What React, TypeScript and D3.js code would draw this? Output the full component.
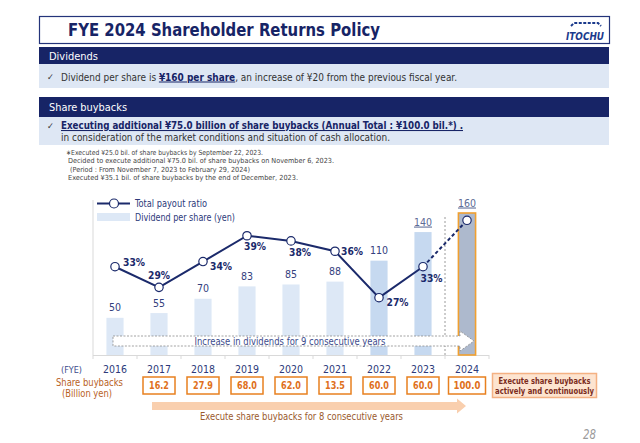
import React from 'react';
import * as d3 from 'd3';

const years = ['2016', '2017', '2018', '2019', '2020', '2021', '2022', '2023', '2024'];
const dividends = [50, 55, 70, 83, 85, 88, 110, 140, 160];
const payoutRatio = [33, 29, 34, 39, 38, 36, 27, 33, 42];
const payoutLabels = ['33%', '29%', '34%', '39%', '38%', '36%', '27%', '33%', ''];
const buybacks: (number | null)[] = [null, 16.2, 27.9, 68.0, 62.0, 13.5, 60.0, 60.0, 100.0];

const F = "'DejaVu Sans Condensed', 'DejaVu Sans', Verdana, sans-serif";
const NAVY = '#172466';
const LINE = '#1b2a6b';
const ORANGE = '#e8801f';

type TP = {
  x: number; y: number; w?: number; size: number; weight?: string | number; fill?: string;
  anchor?: 'start' | 'middle' | 'end'; italic?: boolean; children?: React.ReactNode; deco?: string;
};
function T({ x, y, w, size, weight, fill, anchor, italic, children, deco }: TP) {
  return (
    <text x={x} y={y} fontFamily={F} fontSize={size} fontWeight={weight || 'normal'} fill={fill || '#333'}
      textAnchor={anchor || 'start'} fontStyle={italic ? 'italic' : 'normal'}
      textDecoration={deco}
      {...(w ? { textLength: w, lengthAdjust: 'spacingAndGlyphs' } : {})}>
      {children}
    </text>
  );
}

// label placement relative to each point: [dx, dy, anchor]
const labelOffsets: [number, number, 'start' | 'middle'][] = [
  [8, -1, 'start'], [0, -8.5, 'middle'], [7, 8.5, 'start'], [8, 14.5, 'middle'],
  [9, 15.5, 'middle'], [6, 3.5, 'start'], [7.5, 8.5, 'start'], [8.5, 15.5, 'middle'], [0, 0, 'middle'],
];

export default function App() {
  const x = d3.scaleBand<string>().domain(years).range([93, 489]).padding(0);
  const bw = x.bandwidth();
  const cx = (yr: string) => (x(yr) as number) + bw / 2;
  const barW = bw * 0.39;
  const yBar = d3.scaleLinear().domain([11, 160]).range([355, 213]);
  const yLine = d3.scaleLinear().domain([0, 50]).range([437, 179]);

  const pts = years.map((yr, i) => [cx(yr), yLine(payoutRatio[i])] as [number, number]);
  const lineGen = d3.line();
  const solid = lineGen(pts.slice(0, 8)) || '';
  const dashed = lineGen(pts.slice(7, 9)) || '';

  const barFill = (i: number) => (i === 8 ? '#adb9cd' : i >= 6 ? '#c6d9f0' : '#dde8f6');

  const ticks = d3.range(years.length + 1).map((k) => 93 + k * bw);

  return (
    <svg width={640} height={443} style={{ position: 'absolute', left: 0, top: 0, background: '#fff' }}>
      {/* Title */}
      <rect x={39.5} y={16.5} width={570} height={27} fill="#fff" stroke="#24347a" strokeWidth={1.2} />
      <T x={68} y={36} w={312} size={17.5} weight="bold" fill={NAVY}>FYE 2024 Shareholder Returns Policy</T>
      <path d="M571,26 L574,23 L598,23 L601,26" fill="none" stroke="#1b3a8c" strokeWidth={2} strokeDasharray="3,1.5" />
      <T x={566} y={40} w={38} size={11} weight="bold" italic fill="#1b3a8c">ITOCHU</T>

      {/* Dividends */}
      <rect x={39} y={47} width={570} height={17} fill={NAVY} />
      <T x={49} y={60} w={49} size={11} fill="#fff">Dividends</T>
      <rect x={39} y={64} width={570} height={24} fill="#dee7f4" />
      <T x={47} y={80} size={9} fill="#333">✓</T>
      <text x={61} y={80.5} fontFamily={F} fontSize={10} fill="#333" textLength={396} lengthAdjust="spacingAndGlyphs">
        Dividend per share is{' '}
        <tspan fontWeight="bold" fill={NAVY} textDecoration="underline">¥160 per share</tspan>
        , an increase of ¥20 from the previous fiscal year.
      </text>

      {/* Share buybacks */}
      <rect x={39} y={97} width={570} height={20} fill={NAVY} />
      <T x={49} y={111} w={78} size={11} fill="#fff">Share buybacks</T>
      <rect x={39} y={117} width={570} height={28} fill="#dee7f4" />
      <T x={47} y={128.5} size={9} fill="#333">✓</T>
      <T x={61} y={129} w={402} size={10.5} weight="bold" fill={NAVY} deco="underline">
        Executing additional ¥75.0 billion of share buybacks (Annual Total : ¥100.0 bil.*) .
      </T>
      <T x={61} y={140.5} w={329} size={10} fill="#333">in consideration of the market conditions and situation of cash allocation.</T>
      <T x={66} y={154.5} w={197} size={7} fill="#444">∗Executed ¥25.0 bil. of share buybacks by September 22, 2023.</T>
      <T x={68} y={163} w={266} size={7} fill="#444">Decided to execute additional ¥75.0 bil. of share buybacks on November 6, 2023.</T>
      <T x={70} y={171.5} w={180} size={7} fill="#444">(Period : From November 7, 2023 to February 29, 2024)</T>
      <T x={68} y={180} w={230} size={7} fill="#444">Executed ¥35.1 bil. of share buybacks by the end of December, 2023.</T>

      {/* Axes */}
      <line x1={93} x2={93} y1={200} y2={355} stroke="#d9d9d9" strokeWidth={1} />
      <line x1={93} x2={489} y1={355.5} y2={355.5} stroke="#d9d9d9" strokeWidth={1} />
      {ticks.map((t) => (
        <line key={t} x1={t} x2={t} y1={355} y2={359} stroke="#d9d9d9" strokeWidth={1} />
      ))}

      {/* Bars */}
      {years.map((yr, i) => (
        <rect key={yr} x={cx(yr) - barW / 2} y={yBar(dividends[i])} width={barW} height={355 - yBar(dividends[i])}
          fill={barFill(i)} stroke={i === 8 ? '#f0a030' : 'none'} strokeWidth={i === 8 ? 1.6 : 0} />
      ))}
      <line x1={(x('2024') as number)} x2={(x('2024') as number)} y1={217} y2={355} stroke="#9a9a9a" strokeWidth={1} strokeDasharray="2,2" />
      {years.map((yr, i) => (
        <T key={'d' + yr} x={cx(yr)} y={yBar(dividends[i]) - 6.5} size={10.5} anchor="middle"
          fill={i >= 7 ? '#5d6c96' : '#33407e'} deco={i >= 7 ? 'underline' : undefined}>
          {String(dividends[i])}
        </T>
      ))}

      {/* Increase arrow */}
      <path d="M113,336 H460 V331 L474,341 L460,351 V346 H113 Z" fill="#fff" stroke="#8a8a8a" strokeWidth={0.8} strokeDasharray="2,1.5" />
      <T x={290} y={344.8} w={191} size={10} anchor="middle" fill="#3c4b8c">Increase in dividends for 9 consecutive years</T>

      {/* Payout line */}
      <path d={solid} fill="none" stroke={LINE} strokeWidth={2} />
      <path d={dashed} fill="none" stroke={LINE} strokeWidth={2} strokeDasharray="3.5,2.5" />
      {pts.map((p, i) => (
        <circle key={'c' + i} cx={p[0]} cy={p[1]} r={4.2} fill="#fff" stroke={LINE} strokeWidth={1.2} />
      ))}
      {pts.map((p, i) => payoutLabels[i] ? (
        <T key={'l' + i} x={p[0] + labelOffsets[i][0]} y={p[1] + labelOffsets[i][1]} w={22} size={10.5} weight="bold"
          anchor={labelOffsets[i][2]} fill={LINE}>{payoutLabels[i]}</T>
      ) : null)}

      {/* Legend */}
      <line x1={97} x2={130} y1={203.5} y2={203.5} stroke={LINE} strokeWidth={2} />
      <circle cx={114} cy={203.5} r={4.5} fill="#fff" stroke={LINE} strokeWidth={1.2} />
      <T x={135} y={207} w={72} size={10} fill="#2d3a7a">Total payout ratio</T>
      <rect x={97} y={213} width={33} height={8} fill="#dde8f6" />
      <T x={135} y={220.5} w={100} size={10} fill="#2d3a7a">Dividend per share (yen)</T>

      {/* FYE row */}
      <T x={61} y={372.5} w={21} size={9} fill="#3c4b8c">(FYE)</T>
      {years.map((yr) => (
        <T key={'y' + yr} x={cx(yr)} y={373} w={24} size={10.5} anchor="middle" fill="#2d3a7a">{yr}</T>
      ))}
      <T x={56} y={385.5} w={67} size={10} fill="#b8621f">Share buybacks</T>
      <T x={62} y={396.5} w={50} size={10} fill="#b8621f">(Billion yen)</T>
      {years.map((yr, i) => {
        const v = buybacks[i];
        if (v == null) return null;
        const label = v.toFixed(1);
        const w = label.length > 4 ? 37 : 32;
        return (
          <g key={'b' + yr}>
            <rect x={cx(yr) - w / 2} y={377} width={w} height={17} fill="#fff" stroke={ORANGE} strokeWidth={1.5} />
            <T x={cx(yr)} y={389} size={10} weight="bold" anchor="middle" fill="#e07020"
              w={label.length > 4 ? 27 : 20}>{label}</T>
          </g>
        );
      })}
      <rect x={492.5} y={373.5} width={104} height={24} fill="#fde4d0" stroke="#f4b183" strokeWidth={1.5} />
      <T x={544.5} y={384} w={92} size={8.5} weight="bold" anchor="middle" fill="#7b2c1c">Execute share buybacks</T>
      <T x={544.5} y={393.5} w={99} size={8.5} weight="bold" anchor="middle" fill="#7b2c1c">actively and continuously</T>

      <path d="M152,402 H457 V398.5 L466,406 L457,413.5 V410 H152 Z" fill="#f9cfae" />
      <T x={200} y={419.5} w={203} size={10} fill="#9a5a2e">Execute share buybacks for 8 consecutive years</T>

      <T x={596} y={439} size={14} italic anchor="end" fill="#9a9a9a" w={13}>28</T>
    </svg>
  );
}
